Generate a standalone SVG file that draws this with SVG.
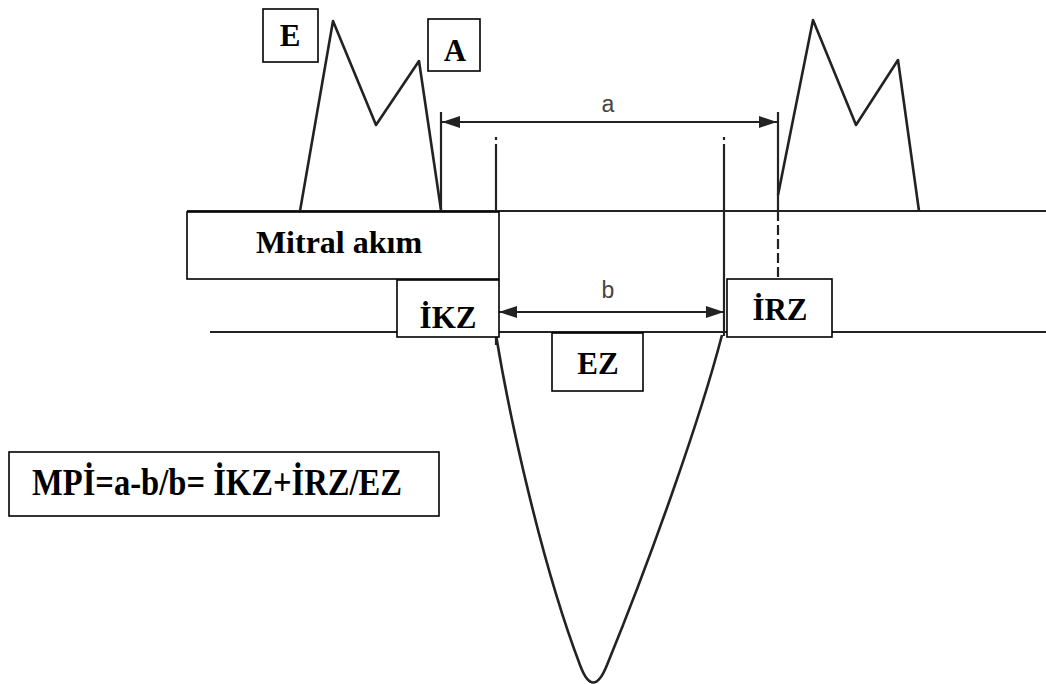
<svg xmlns="http://www.w3.org/2000/svg" width="1046" height="684" viewBox="0 0 1046 684">
  <style>
    .wave { fill: none; stroke: #222; stroke-width: 2.6; stroke-linejoin: round; }
    .line { fill: none; stroke: #222; stroke-width: 2.2; }
    .box { fill: #fff; stroke: #000; stroke-width: 1.6; }
    .lbl { font-family: "Liberation Serif", "Times New Roman", serif; font-weight: bold; fill: #000; text-anchor: middle; }
    .small { font-family: "Liberation Sans", Arial, sans-serif; fill: #444; text-anchor: middle; font-size: 23px; }
  </style>
  <defs>
    <marker id="arr" viewBox="0 0 18 12" refX="18" refY="6" markerWidth="18" markerHeight="12" markerUnits="userSpaceOnUse" orient="auto-start-reverse">
      <path d="M0,0 L18,6 L0,12 z" fill="#222"/>
    </marker>
  </defs>

  <g id="connectors">
    <!-- baselines -->
    <line class="line" x1="187" y1="211" x2="1046" y2="211"/>
    <line class="line" x1="210" y1="332" x2="1046" y2="332"/>
    <!-- mitral waves -->
    <path class="wave" d="M300,211 L333,21 L376,125 L419,61 L441,210"/>
    <path class="wave" d="M778,195 L813,20 L856,125 L898,60 L919,211"/>
    <!-- ejection parabola -->
    <path class="wave" d="M496,335 C510,420 542,565 580,665 Q593,700 607,665 C650,560 700,420 722,335"/>
    <!-- vertical markers -->
    <line class="line" x1="441" y1="112" x2="441" y2="211"/>
    <line class="line" x1="778" y1="112" x2="778" y2="211"/>
    <line class="line" x1="778" y1="211" x2="778" y2="280" stroke-dasharray="10,4"/>
    <line class="line" x1="496" y1="137" x2="496" y2="140"/>
    <line class="line" x1="496" y1="144" x2="496" y2="345"/>
    <line class="line" x1="724" y1="137" x2="724" y2="140"/>
    <line class="line" x1="724" y1="144" x2="724" y2="336"/>
    <!-- dimension arrows -->
    <line class="line" x1="442" y1="122" x2="777" y2="122" marker-start="url(#arr)" marker-end="url(#arr)"/>
    <line class="line" x1="499" y1="312" x2="724" y2="312" marker-start="url(#arr)" marker-end="url(#arr)"/>
    <text class="small" x="608" y="112">a</text>
    <text class="small" x="608" y="298">b</text>
  </g>

  <g id="node-E">
    <rect class="box" x="263" y="9" width="55" height="53"/>
    <text class="lbl" x="290" y="46" font-size="31">E</text>
  </g>
  <g id="node-A">
    <rect class="box" x="428" y="19" width="52" height="52"/>
    <text class="lbl" x="455" y="61" font-size="31">A</text>
  </g>
  <g id="node-mitral">
    <rect class="box" x="187" y="212" width="312" height="67"/>
    <text class="lbl" x="339" y="253" font-size="32">Mitral akım</text>
  </g>
  <g id="node-IKZ">
    <rect class="box" x="397" y="280" width="102" height="57"/>
    <text class="lbl" x="448" y="328" font-size="31">İKZ</text>
  </g>
  <g id="node-IRZ">
    <rect class="box" x="727" y="279" width="105" height="58"/>
    <text class="lbl" x="780" y="320" font-size="31">İRZ</text>
  </g>
  <g id="node-EZ">
    <rect class="box" x="552" y="333" width="91" height="58"/>
    <text class="lbl" x="598" y="374" font-size="31">EZ</text>
  </g>
  <g id="node-formula">
    <rect class="box" x="9" y="452" width="430" height="64"/>
    <text class="lbl" x="217" y="495" font-size="37" textLength="370" lengthAdjust="spacingAndGlyphs">MPİ=a-b/b= İKZ+İRZ/EZ</text>
  </g>
</svg>
